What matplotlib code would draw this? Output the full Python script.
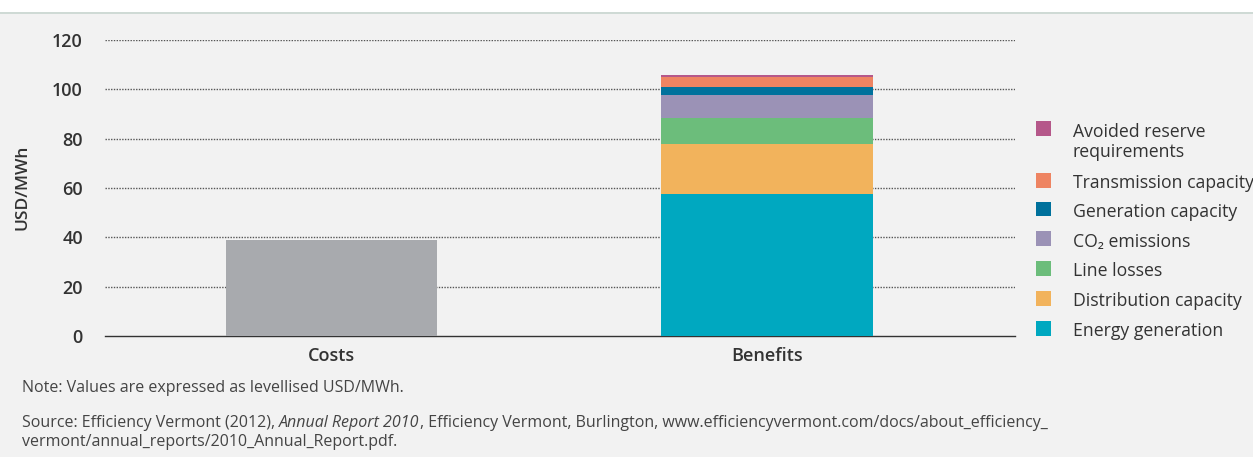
import matplotlib
matplotlib.use("Agg")
import matplotlib.pyplot as plt
from matplotlib.patches import Rectangle
from matplotlib.lines import Line2D

# ---- data ----
categories = ["Costs", "Benefits"]
cost_value = 39.0
benefit_components = [
    "Energy generation",
    "Distribution capacity",
    "Line losses",
    "CO₂ emissions",
    "Generation capacity",
    "Transmission capacity",
    "Avoided reserve\nrequirements",
]
benefit_values = [57.5, 20.5, 10.5, 9.2, 3.3, 4.1, 0.6]
component_colors = ["#00A8C0", "#F2B35C", "#6CBD7B", "#9B92B6",
                    "#00719C", "#EE8462", "#B5588A"]
cost_color = "#A8AAAE"
yticks = [0, 20, 40, 60, 80, 100, 120]

note_text = "Note: Values are expressed as levellised USD/MWh."
source_parts = [
    ("Source: Efficiency Vermont (2012), ", "normal"),
    ("Annual Report 2010", "italic"),
    (", Efficiency Vermont, Burlington, www.efficiencyvermont.com/docs/about_efficiency_", "normal"),
]
source_line2 = "vermont/annual_reports/2010_Annual_Report.pdf."

FONT = "Open Sans"
BG = "#F2F2F2"
TXT = "#333333"
NOTE = "#444444"

W, H = 1253, 457
fig = plt.figure(figsize=(W / 100, H / 100), dpi=100)
fig.patch.set_facecolor(BG)

# white strip with a thin rule across the top
fig.add_artist(Rectangle((0, 1 - 12 / H), 1, 12 / H, transform=fig.transFigure,
                         facecolor="white", edgecolor="none", zorder=0))
fig.add_artist(Line2D([0, 1], [1 - 12.5 / H, 1 - 12.5 / H], transform=fig.transFigure,
                      color="#C9D6D0", lw=1.2, zorder=1))

ax = fig.add_axes([105 / W, 1 - 336 / H, 910 / W, 296 / H])
ax.set_facecolor(BG)

x = [0, 1]
bar_w = 0.485
ax.bar(x[0], cost_value, width=bar_w, color=cost_color, zorder=3)
bottom = 0.0
for val, col in zip(benefit_values, component_colors):
    ax.bar(x[1], val, width=bar_w, bottom=bottom, color=col, zorder=3)
    bottom += val

ax.set_xlim(-0.52, 1.569)
ax.set_ylim(0, 120)
ax.set_yticks(yticks)
ax.set_yticklabels([str(t) for t in yticks], fontfamily=FONT, fontsize=13,
                   fontweight="semibold", color=TXT)
ax.set_xticks(x)
ax.set_xticklabels(categories, fontfamily=FONT, fontsize=13,
                   fontweight="semibold", color=TXT)
ax.tick_params(axis="y", length=0, pad=16)
ax.tick_params(axis="x", length=0, pad=8)
for yv in yticks[1:]:
    ax.axhline(yv, color="#555555", lw=1.0, ls=(0, (1, 1)), zorder=1)
for s in ["top", "right", "left"]:
    ax.spines[s].set_visible(False)
ax.spines["bottom"].set_color("#333333")
ax.spines["bottom"].set_linewidth(1.0)
fig.text(23 / W, 1 - 187 / H, "USD/MWh", fontfamily=FONT, fontsize=12.5,
         fontweight="semibold", color=TXT, rotation=90, ha="center", va="center")

# legend, top entry first
sq = 15
ys = [142, 183, 212, 242, 271, 301, 331]
sq_centres = [129, 183, 212, 242, 271, 301, 331]
for name, col, yc, sc in zip(reversed(benefit_components), reversed(component_colors),
                             ys, sq_centres):
    if "\n" not in name:
        sc = yc - 3
    fig.add_artist(Rectangle((1036 / W, 1 - (sc + sq / 2) / H), sq / W, sq / H,
                             transform=fig.transFigure, facecolor=col, edgecolor="none"))
    fig.text(1073 / W, 1 - yc / H, name, fontfamily=FONT, fontsize=12.7, color=TXT,
             va="center", ha="left", linespacing=1.1)

# footnotes
FS = 11.5
fig.text(22 / W, 1 - 388 / H, note_text, fontfamily=FONT, fontsize=FS,
         color=NOTE, va="center")
renderer = fig.canvas.get_renderer()
xpos = 22 / W
for txt, style in source_parts:
    t = fig.text(xpos, 1 - 423 / H, txt, fontfamily=FONT, fontsize=FS,
                 color=NOTE, va="center", style=style)
    bb = t.get_window_extent(renderer=renderer)
    xpos = bb.x1 / W
fig.text(22 / W, 1 - 442 / H, source_line2, fontfamily=FONT, fontsize=FS,
         color=NOTE, va="center")

fig.savefig("out.png", dpi=100, facecolor=BG)
